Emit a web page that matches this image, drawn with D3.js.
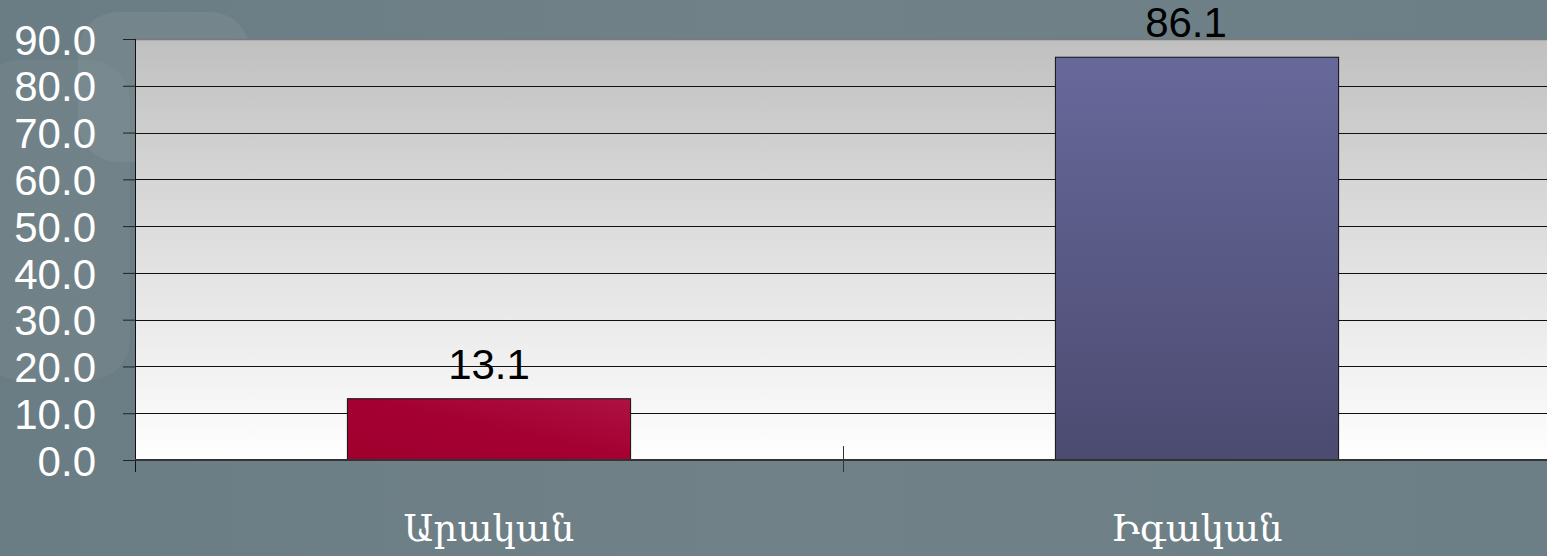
<!DOCTYPE html>
<html><head><meta charset="utf-8">
<script src="https://cdn.jsdelivr.net/npm/d3@7"></script>
<style>html,body{margin:0;padding:0;background:#6f8188;overflow:hidden}</style>
</head><body>
<svg id="c" width="1547" height="556"></svg>
<script>
const categories = ["Արական", "Իգական"];
const values = [13.1, 86.1];
const yTicks = [0, 10, 20, 30, 40, 50, 60, 70, 80, 90];
const barColors = [["#a0002e", "#ad1242"], ["#68689b", "#4b4b71"]];

const W = 1547, H = 556;
const m = {left: 135, top: 39, right: -4, bottom: 96};
const svg = d3.select("#c");
const defs = svg.append("defs");

const bg = defs.append("linearGradient").attr("id","bgG").attr("x1",0).attr("y1",0).attr("x2",1).attr("y2",0);
bg.append("stop").attr("offset","0").attr("stop-color","#6b7d84");
bg.append("stop").attr("offset","0.5").attr("stop-color","#708288");
bg.append("stop").attr("offset","1").attr("stop-color","#6d7f86");
svg.append("rect").attr("width",W).attr("height",H).attr("fill","url(#bgG)");
// faint decorative shapes top-left
svg.append("rect").attr("x",78).attr("y",12).attr("width",172).attr("height",150).attr("rx",40)
  .attr("fill","#ffffff").attr("opacity",0.06);
svg.append("rect").attr("x",-20).attr("y",60).attr("width",150).attr("height",320).attr("rx",40)
  .attr("fill","#ffffff").attr("opacity",0.04);

const pg = defs.append("linearGradient").attr("id","plotG").attr("x1",0).attr("y1",0).attr("x2",0).attr("y2",1);
pg.append("stop").attr("offset","0").attr("stop-color","#c0c0c0");
pg.append("stop").attr("offset","1").attr("stop-color","#ffffff");

const g0 = defs.append("linearGradient").attr("id","bar0").attr("x1",0).attr("y1",1).attr("x2",1).attr("y2",0);
g0.append("stop").attr("offset","0").attr("stop-color",barColors[0][0]);
g0.append("stop").attr("offset","0.5").attr("stop-color","#a40032");
g0.append("stop").attr("offset","1").attr("stop-color",barColors[0][1]);
const g1 = defs.append("linearGradient").attr("id","bar1").attr("x1",0).attr("y1",0).attr("x2",0).attr("y2",1);
g1.append("stop").attr("offset","0").attr("stop-color",barColors[1][0]);
g1.append("stop").attr("offset","1").attr("stop-color",barColors[1][1]);

const x = d3.scaleBand().domain(categories).range([m.left, W - m.right]).paddingInner(0).paddingOuter(0);
const y = d3.scaleLinear().domain([0, 90]).range([H - m.bottom, m.top]);

// plot area
svg.append("rect").attr("x", m.left).attr("y", y(90)).attr("width", W - m.right - m.left)
  .attr("height", y(0) - y(90)).attr("fill","url(#plotG)");
// top border
svg.append("line").attr("x1", m.left).attr("x2", W).attr("y1", y(90)+0.5).attr("y2", y(90)+0.5)
  .attr("stroke","#7a7a7a").attr("stroke-width",1.5);

// gridlines
svg.append("g").selectAll("line").data(yTicks.filter(d => d > 0 && d < 90)).join("line")
  .attr("x1", m.left).attr("x2", W).attr("y1", d => Math.round(y(d))+0.5).attr("y2", d => Math.round(y(d))+0.5)
  .attr("stroke","#111").attr("stroke-width",1);

// bars
const bw = x.bandwidth() * 0.4;
svg.append("g").selectAll("rect").data(values).join("rect")
  .attr("x", (d,i) => x(categories[i]) + x.bandwidth()/2 - bw/2)
  .attr("y", d => y(d))
  .attr("width", bw)
  .attr("height", d => y(0) - y(d))
  .attr("fill", (d,i) => `url(#bar${i})`)
  .attr("stroke","#111").attr("stroke-width",1);

// value labels
svg.append("g").selectAll("text").data(values).join("text")
  .attr("x", (d,i) => x(categories[i]) + x.bandwidth()/2 - (i === 1 ? 11 : 0))
  .attr("y", d => y(d) - 20)
  .attr("text-anchor","middle")
  .attr("font-family","Liberation Sans, Arial, sans-serif")
  .attr("font-size", 42)
  .attr("fill","#000")
  .text(d => d.toFixed(1));

// y axis
const yAxis = svg.append("g").attr("transform", `translate(${m.left},0)`)
  .call(d3.axisLeft(y).tickValues(yTicks).tickFormat(d3.format(".1f")).tickSize(12).tickPadding(27));
yAxis.select(".domain").remove();
yAxis.selectAll(".tick line").attr("stroke","#222");
yAxis.selectAll("text").attr("fill","#fff").attr("font-family","Liberation Sans, Arial, sans-serif")
  .attr("font-size", 42).attr("dy","0.36em");
svg.append("line").attr("x1", m.left+0.5).attr("x2", m.left+0.5).attr("y1", y(90)).attr("y2", y(0)+12)
  .attr("stroke","#111").attr("stroke-width",1);

// x axis
svg.append("line").attr("x1", m.left).attr("x2", W).attr("y1", y(0)).attr("y2", y(0))
  .attr("stroke","#333").attr("stroke-width",2);
svg.append("g").selectAll("line").data(categories.slice(1)).join("line")
  .attr("x1", d => Math.round(x(d))+0.5).attr("x2", d => Math.round(x(d))+0.5)
  .attr("y1", y(0)-14).attr("y2", y(0)+12)
  .attr("stroke","#333").attr("stroke-width",1);
svg.append("g").selectAll("text").data(categories).join("text")
  .attr("x", d => x(d) + x.bandwidth()/2)
  .attr("y", 541)
  .attr("text-anchor","middle")
  .attr("font-family","DejaVu Serif, serif")
  .attr("font-size", 37)
  .attr("fill","#fff")
  .text(d => d);
</script>
</body></html>
